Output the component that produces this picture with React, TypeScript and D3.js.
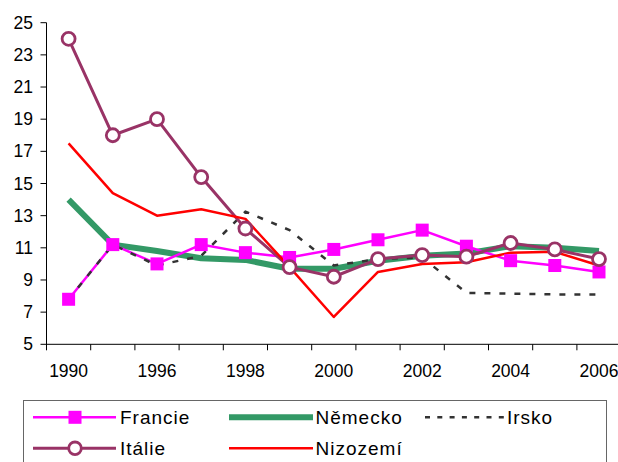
import React from "react";
import * as d3 from "d3";

const years = ["1990", "1995", "1996", "1997", "1998", "1999", "2000", "2001", "2002", "2003", "2004", "2005", "2006"];
const shownYears = ["1990", "1996", "1998", "2000", "2002", "2004", "2006"];
const yTicks = [5, 7, 9, 11, 13, 15, 17, 19, 21, 23, 25];

const francie = [7.8, 11.2, 10.0, 11.2, 10.7, 10.4, 10.9, 11.5, 12.1, 11.1, 10.2, 9.9, 9.5];
const nemecko = [14.0, 11.2, 10.8, 10.35, 10.25, 9.7, 9.7, 10.2, 10.5, 10.65, 11.1, 11.0, 10.8];
const irsko = [7.8, 11.2, 9.9, 10.5, 13.25, 12.1, 9.9, 10.3, 10.4, 8.2, 8.15, 8.1, 8.1];
const italie = [24.0, 18.0, 19.0, 15.4, 12.2, 9.8, 9.2, 10.3, 10.55, 10.45, 11.3, 10.9, 10.3];
const nizozemi = [17.5, 14.4, 13.0, 13.4, 12.8, 9.8, 6.7, 9.5, 10.0, 10.1, 10.7, 10.75, 9.9];

const FONT = "'Liberation Sans', Arial, sans-serif";

export default function App() {
  const W = 618, H = 462;
  const x0 = 46.5;
  const bw = 44.2;
  const x = d3.scaleBand<string>().domain(years).range([x0, x0 + bw * years.length]).padding(0);
  const cx = (i: number) => (x(years[i]) as number) + x.bandwidth() / 2;
  const y = d3.scaleLinear().domain([5, 25]).range([344.3, 22.7]);
  const line = (vals: number[]) =>
    d3.line<number>().x((_, i) => cx(i)).y((v) => y(v))(vals) as string;

  const series = [
    { name: "Německo", vals: nemecko, color: "#339966", width: 6, dash: undefined as string | undefined },
    { name: "Francie", vals: francie, color: "#FF00FF", width: 2.5, dash: undefined },
    { name: "Irsko", vals: irsko, color: "#333333", width: 2.5, dash: "6,9" },
    { name: "Itálie", vals: italie, color: "#993366", width: 3, dash: undefined },
    { name: "Nizozemí", vals: nizozemi, color: "#FF0000", width: 2.5, dash: undefined },
  ];

  return (
    <svg width={W} height={H} style={{ position: "absolute", left: 0, top: 0, background: "#fff" }}>
      <rect x={0} y={0} width={W} height={H} fill="#fff" />
      {/* y axis */}
      <line x1={x0} x2={x0} y1={y(25)} y2={y(5) + 6} stroke="#000" strokeWidth={1} />
      {yTicks.map((t) => (
        <g key={t}>
          <line x1={x0 - 6} x2={x0} y1={y(t)} y2={y(t)} stroke="#000" strokeWidth={1} />
          <text x={33} y={y(t) + 6} textAnchor="end" fontFamily={FONT} fontSize={17.5} fill="#000">
            {t}
          </text>
        </g>
      ))}
      {/* x axis */}
      <line x1={x0} x2={W} y1={y(5)} y2={y(5)} stroke="#000" strokeWidth={1} />
      {years.map((yr, i) => (
        <line key={yr} x1={(x(yr) as number) + bw} x2={(x(yr) as number) + bw} y1={y(5)} y2={y(5) + 6} stroke="#000" strokeWidth={1} />
      ))}
      {shownYears.map((yr) => (
        <text key={yr} x={(x(yr) as number) + bw / 2} y={377} textAnchor="middle" fontFamily={FONT} fontSize={17.5} fill="#000">
          {yr}
        </text>
      ))}
      {/* lines */}
      {series.map((s) => (
        <path key={s.name} d={line(s.vals)} fill="none" stroke={s.color} strokeWidth={s.width} strokeDasharray={s.dash} strokeLinejoin="round" />
      ))}
      {/* markers */}
      {francie.map((v, i) => (
        <rect key={"f" + i} x={cx(i) - 6.5} y={y(v) - 6.5} width={13} height={13} fill="#FF00FF" />
      ))}
      {italie.map((v, i) => (
        <circle key={"i" + i} cx={cx(i)} cy={y(v)} r={6.5} fill="#fff" stroke="#993366" strokeWidth={2.8} />
      ))}
      {/* legend */}
      <rect x={23.5} y={400.5} width={583} height={80} fill="#fff" stroke="#666" strokeWidth={1} />
      <g fontFamily={FONT} fontSize={19} letterSpacing={1} fill="#000">
        <line x1={33} x2={116} y1={417.3} y2={417.3} stroke="#FF00FF" strokeWidth={2.5} />
        <rect x={68.5} y={410.8} width={13} height={13} fill="#FF00FF" />
        <text x={120} y={424.3}>Francie</text>
        <line x1={229} x2={313} y1={417.3} y2={417.3} stroke="#339966" strokeWidth={6} />
        <text x={315.5} y={424.3}>Německo</text>
        <line x1={425} x2={505} y1={417.3} y2={417.3} stroke="#333333" strokeWidth={2.5} strokeDasharray="5,7.3" />
        <text x={507} y={424.3}>Irsko</text>
        <line x1={33} x2={116} y1={448.3} y2={448.3} stroke="#993366" strokeWidth={3} />
        <circle cx={75} cy={448.3} r={6.3} fill="#fff" stroke="#993366" strokeWidth={2.8} />
        <text x={120} y={455.3}>Itálie</text>
        <line x1={229} x2={313} y1={448.3} y2={448.3} stroke="#FF0000" strokeWidth={2.5} />
        <text x={315.5} y={455.3}>Nizozemí</text>
      </g>
    </svg>
  );
}
